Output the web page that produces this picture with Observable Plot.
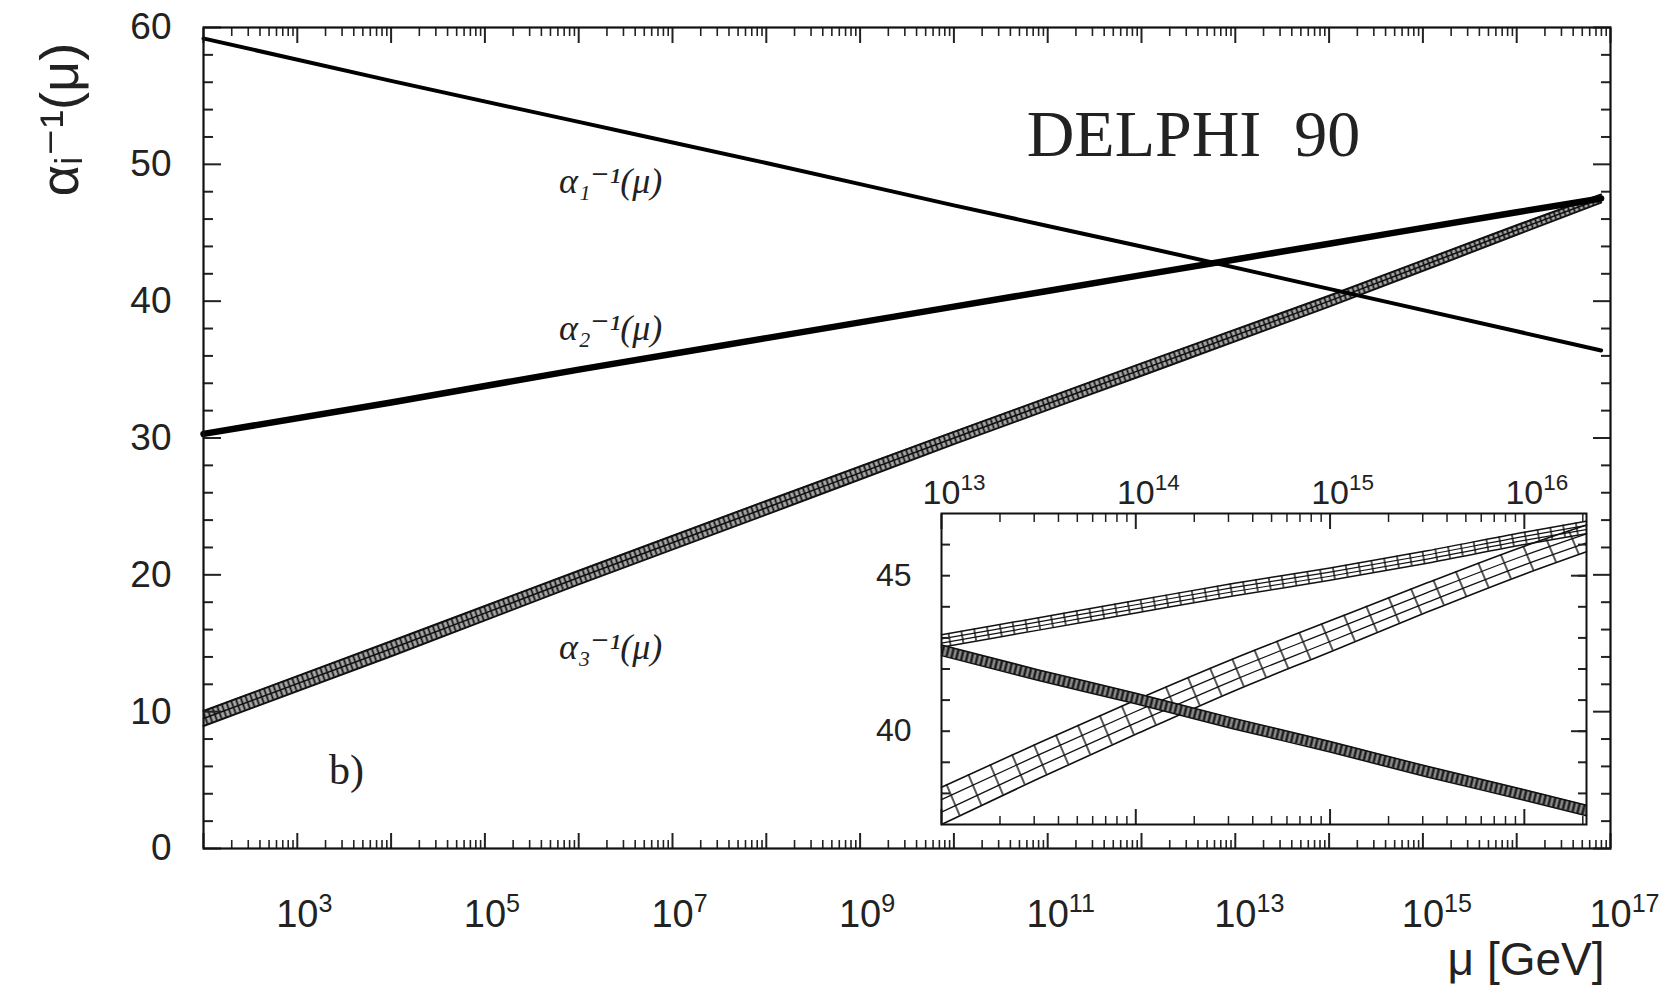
<!DOCTYPE html>
<html><head><meta charset="utf-8">
<script src="https://cdn.jsdelivr.net/npm/d3@7"></script>
<script src="https://cdn.jsdelivr.net/npm/@observablehq/plot@0.6"></script>
<style>
html,body{margin:0;padding:0;background:#fff;}
#wrap{position:relative;width:1677px;height:985px;overflow:hidden;}
#inset{position:absolute;left:871px;top:453px;}
g[aria-label="delphi"] text{letter-spacing:7px;}
</style></head><body><div id="wrap"><div id="main"></div><div id="inset"></div></div>
<script>
// ---------- main panel: log10(mu / GeV) sample points ----------
const mainLogMu = [2, 4, 6, 8, 10, 12, 14, 16, 16.9];
const alpha1Inv = [59.2, 56.1, 53.1, 50.1, 47.0, 44.0, 40.9, 37.8, 36.4];
const alpha2Inv = [30.3, 32.6, 35.0, 37.3, 39.6, 41.9, 44.2, 46.5, 47.5];
const alpha3Inv = [9.5, 14.6, 19.8, 24.9, 30.0, 35.0, 40.0, 45.2, 47.5];
const alpha3Err = [0.55, 0.55, 0.5, 0.5, 0.45, 0.45, 0.4, 0.35, 0.3];

// ---------- inset panel (zoom on the unification region) ----------
const insetLogMu = [13, 13.5, 14, 14.5, 15, 15.5, 16, 16.32];
const inAlpha1 = [42.6, 41.8, 41.05, 40.25, 39.5, 38.7, 37.95, 37.45];
const inAlpha1Err = [0.17, 0.17, 0.17, 0.17, 0.17, 0.17, 0.17, 0.17];
const inAlpha2 = [42.9, 43.45, 44.0, 44.55, 45.05, 45.6, 46.2, 46.55];
const inAlpha2Err = [0.2, 0.2, 0.2, 0.2, 0.2, 0.2, 0.2, 0.2];
const inAlpha3 = [37.6, 39.05, 40.45, 41.8, 43.05, 44.3, 45.5, 46.2];
const inAlpha3Err = [0.6, 0.57, 0.55, 0.52, 0.5, 0.47, 0.45, 0.43];

// ---------- tick labels ----------
const mainLabelExp = [3, 5, 7, 9, 11, 13, 15, 17];
const mainDecadeExp = [2,3,4,5,6,7,8,9,10,11,12,13,14,15,16,17];
const yMajor = [0, 10, 20, 30, 40, 50, 60];
const insetLabelExp = [13, 14, 15, 16];
const insetYLabels = [40, 45];

const yTitle = "αᵢ⁻¹(μ)";
const xTitle = "μ [GeV]";
const seriesNames = ["α₁⁻¹(μ)", "α₂⁻¹(μ)", "α₃⁻¹(μ)"];
const experiment = "DELPHI\u00A0\u00A090";
const panelTag = "b)";

// ---------- helpers ----------
const SUP = "⁰¹²³⁴⁵⁶⁷⁸⁹";
const fmtPow = v => "10" + String(Math.round(Math.log10(v))).split("").map(c => SUP[+c]).join("");
const blank = () => "";
const SVGNS = "http://www.w3.org/2000/svg";
const defsMark = html => () => { const d = document.createElementNS(SVGNS, "defs"); d.innerHTML = html; return d; };

// render "10ⁿ" tick labels as "10" centred on the tick with a raised exponent
function raiseExponents(svg) {
  d3.select(svg).selectAll("text").each(function () {
    const m = /^10([⁰¹²³⁴⁵⁶⁷⁸⁹]+)$/.exec(this.textContent);
    if (!m) return;
    const exp = m[1].split("").map(c => SUP.indexOf(c)).join("");
    const t = d3.select(this);
    t.text(null).attr("text-anchor", "start").attr("x", "-0.556em");
    t.append("tspan").text("10");
    t.append("tspan").attr("dy", "-0.62em").attr("font-size", "0.66em").text(exp);
  });
}

const mainRows = mainLogMu.map((l, i) => ({mu: 10 ** l, a1: alpha1Inv[i], a2: alpha2Inv[i], a3: alpha3Inv[i], e3: alpha3Err[i]}));
const insetRows = insetLogMu.map((l, i) => ({mu: 10 ** l,
  a1: inAlpha1[i], e1: inAlpha1Err[i], a2: inAlpha2[i], e2: inAlpha2Err[i], a3: inAlpha3[i], e3: inAlpha3Err[i]}));

const majorX = mainDecadeExp.map(e => 10 ** e);
const minorX = mainDecadeExp.slice(0, -1).flatMap(e => d3.range(2, 10).map(m => m * 10 ** e));
const labelX = mainLabelExp.map(e => 10 ** e);
const yMinor = d3.range(0, 61, 2).filter(v => v % 10 !== 0);

const SANS = "Liberation Sans, DejaVu Sans, sans-serif";
const SERIF = "Liberation Serif, DejaVu Serif, serif";

const curve = "monotone-x";

const main = Plot.plot({
  width: 1677, height: 985,
  marginLeft: 203, marginRight: 67, marginTop: 27, marginBottom: 137,
  style: {fontFamily: SANS, fontSize: "36px", color: "#222", background: "transparent", overflow: "visible"},
  x: {type: "log", domain: [1e2, 1e17]},
  y: {domain: [0, 60]},
  marks: [
    defsMark(`<pattern id="hm3" patternUnits="userSpaceOnUse" width="5" height="5" patternTransform="rotate(-20)">
      <rect width="5" height="5" fill="#a8a8a8"/>
      <line x1="2.5" y1="0" x2="2.5" y2="5" stroke="#111" stroke-width="1.8"/></pattern>`),
    // alpha3 band
    Plot.areaY(mainRows, {x: "mu", y1: d => d.a3 - d.e3, y2: d => d.a3 + d.e3, fill: "url(#hm3)", curve}),
    Plot.line(mainRows, {x: "mu", y: d => d.a3 - d.e3, stroke: "#111", strokeWidth: 2, curve}),
    Plot.line(mainRows, {x: "mu", y: d => d.a3 + d.e3, stroke: "#111", strokeWidth: 2, curve}),
    Plot.line(mainRows, {x: "mu", y: "a3", stroke: "#111", strokeWidth: 1.5, curve}),
    // alpha1, alpha2
    Plot.line(mainRows, {x: "mu", y: "a1", stroke: "#000", strokeWidth: 4, curve}),
    Plot.line(mainRows, {x: "mu", y: "a2", stroke: "#000", strokeWidth: 6.5, curve}),
    // series labels anchored on the 10^6 sample
    Plot.text(mainRows.filter(d => d.mu === 1e6), {x: "mu", y: "a1", text: () => seriesNames[0], dx: 32, dy: 60, fontFamily: SERIF, fontStyle: "italic", fontSize: 36, fill: "#222"}),
    Plot.text(mainRows.filter(d => d.mu === 1e6), {x: "mu", y: "a2", text: () => seriesNames[1], dx: 32, dy: -41, fontFamily: SERIF, fontStyle: "italic", fontSize: 36, fill: "#222"}),
    Plot.text(mainRows.filter(d => d.mu === 1e6), {x: "mu", y: "a3", text: () => seriesNames[2], dx: 32, dy: 70, fontFamily: SERIF, fontStyle: "italic", fontSize: 36, fill: "#222"}),
    // axes: labels
    Plot.axisX(labelX, {anchor: "bottom", tickSize: 0, tickPadding: 52, tickFormat: fmtPow, label: null, fontSize: 38}),
    Plot.axisY(yMajor, {anchor: "left", tickSize: 0, tickPadding: 32, tickFormat: d => d, label: null, fontSize: 37}),
    // axes: inward ticks on all sides
    Plot.axisX(majorX, {anchor: "bottom", tickSize: -15, tickFormat: blank, label: null, strokeWidth: 2}),
    Plot.axisX(minorX, {anchor: "bottom", tickSize: -8, tickFormat: blank, label: null, strokeWidth: 1.6}),
    Plot.axisX(majorX, {anchor: "top", tickSize: -15, tickFormat: blank, label: null, strokeWidth: 2}),
    Plot.axisX(minorX, {anchor: "top", tickSize: -8, tickFormat: blank, label: null, strokeWidth: 1.6}),
    Plot.axisY(yMajor, {anchor: "left", tickSize: -18, tickFormat: blank, label: null, strokeWidth: 2}),
    Plot.axisY(yMinor, {anchor: "left", tickSize: -10, tickFormat: blank, label: null, strokeWidth: 2}),
    Plot.axisY(yMajor, {anchor: "right", tickSize: -18, tickFormat: blank, label: null, strokeWidth: 2}),
    Plot.axisY(yMinor, {anchor: "right", tickSize: -10, tickFormat: blank, label: null, strokeWidth: 2}),
    Plot.frame({stroke: "#111", strokeWidth: 2.2}),
    // titles / annotations
    Plot.text([yTitle], {frameAnchor: "top-left", text: d => d, dx: -143, dy: 92, rotate: -90, textAnchor: "middle", lineAnchor: "middle", fontSize: 54, fill: "#222"}),
    Plot.text([xTitle], {frameAnchor: "bottom-right", text: d => d, dx: -6, dy: 112, textAnchor: "end", lineAnchor: "middle", fontSize: 46, fill: "#222"}),
    Plot.text([experiment], {frameAnchor: "top-left", text: d => d, dx: 990, dy: 107, textAnchor: "middle", lineAnchor: "middle", fontFamily: SERIF, fontSize: 66, fill: "#222", ariaLabel: "delphi"}),
    Plot.text([panelTag], {frameAnchor: "bottom-left", text: d => d, dx: 143, dy: -78, textAnchor: "middle", lineAnchor: "middle", fontFamily: SERIF, fontSize: 42, fill: "#222"})
  ]
});
raiseExponents(main);
document.getElementById("main").appendChild(main);

// ---------- inset ----------
const inDomain = [1e13, 10 ** 16.32];
const inMajorX = insetLabelExp.map(e => 10 ** e);
const inMinorX = insetLabelExp.flatMap(e => d3.range(2, 10).map(m => m * 10 ** e)).filter(v => v <= inDomain[1]);
const inYTicks = d3.range(38, 47);

const bandLines = (key, err, w) => [-1, -1/3, 1/3, 1].map(f =>
  Plot.line(insetRows, {x: "mu", y: d => d[key] + f * d[err], stroke: "#111", strokeWidth: Math.abs(f) === 1 ? w : w * 0.8, curve}));

const inset = Plot.plot({
  width: 725, height: 381,
  marginLeft: 70, marginRight: 10, marginTop: 60, marginBottom: 10,
  style: {fontFamily: SANS, fontSize: "34px", color: "#222", background: "transparent", overflow: "visible"},
  x: {type: "log", domain: inDomain},
  y: {domain: [37, 47]},
  marks: [
    defsMark(`<pattern id="hi3" patternUnits="userSpaceOnUse" width="24" height="24" patternTransform="rotate(-23)">
        <line x1="12" y1="0" x2="12" y2="24" stroke="#111" stroke-width="1.4"/></pattern>
      <pattern id="hi2" patternUnits="userSpaceOnUse" width="13" height="13" patternTransform="rotate(-10)">
        <line x1="6" y1="0" x2="6" y2="13" stroke="#111" stroke-width="1.4"/></pattern>
      <pattern id="hi1" patternUnits="userSpaceOnUse" width="5" height="5" patternTransform="rotate(14)">
        <rect width="5" height="5" fill="#8a8a8a"/><line x1="2.5" y1="0" x2="2.5" y2="5" stroke="#111" stroke-width="2.2"/></pattern>`),
    Plot.frame({fill: "#fff"}),
    // alpha3
    Plot.areaY(insetRows, {x: "mu", y1: d => d.a3 - d.e3, y2: d => d.a3 + d.e3, fill: "url(#hi3)", curve}),
    ...bandLines("a3", "e3", 1.6),
    // alpha2
    Plot.areaY(insetRows, {x: "mu", y1: d => d.a2 - d.e2, y2: d => d.a2 + d.e2, fill: "url(#hi2)", curve}),
    ...bandLines("a2", "e2", 1.5),
    // alpha1
    Plot.areaY(insetRows, {x: "mu", y1: d => d.a1 - d.e1, y2: d => d.a1 + d.e1, fill: "url(#hi1)", curve}),
    Plot.line(insetRows, {x: "mu", y: d => d.a1 - d.e1, stroke: "#111", strokeWidth: 1.5, curve}),
    Plot.line(insetRows, {x: "mu", y: d => d.a1 + d.e1, stroke: "#111", strokeWidth: 1.5, curve}),
    // labels
    Plot.axisX(inMajorX, {anchor: "top", tickSize: 0, tickPadding: 10, tickFormat: fmtPow, label: null, fontSize: 34}),
    Plot.axisY(insetYLabels, {anchor: "left", tickSize: 0, tickPadding: 30, tickFormat: d => d, label: null, fontSize: 32}),
    // ticks
    Plot.axisX(inMajorX, {anchor: "top", tickSize: -15, tickFormat: blank, label: null, strokeWidth: 2}),
    Plot.axisX(inMinorX, {anchor: "top", tickSize: -8, tickFormat: blank, label: null, strokeWidth: 1.5}),
    Plot.axisX(inMajorX, {anchor: "bottom", tickSize: -15, tickFormat: blank, label: null, strokeWidth: 2}),
    Plot.axisX(inMinorX, {anchor: "bottom", tickSize: -8, tickFormat: blank, label: null, strokeWidth: 1.5}),
    Plot.axisY(inYTicks, {anchor: "left", tickSize: -9, tickFormat: blank, label: null, strokeWidth: 2}),
    Plot.axisY(inYTicks, {anchor: "right", tickSize: -9, tickFormat: blank, label: null, strokeWidth: 2}),
    Plot.axisY(insetYLabels, {anchor: "right", tickSize: -16, tickFormat: blank, label: null, strokeWidth: 2}),
    Plot.frame({stroke: "#111", strokeWidth: 2})
  ]
});
raiseExponents(inset);
document.getElementById("inset").appendChild(inset);
</script>
</body></html>
